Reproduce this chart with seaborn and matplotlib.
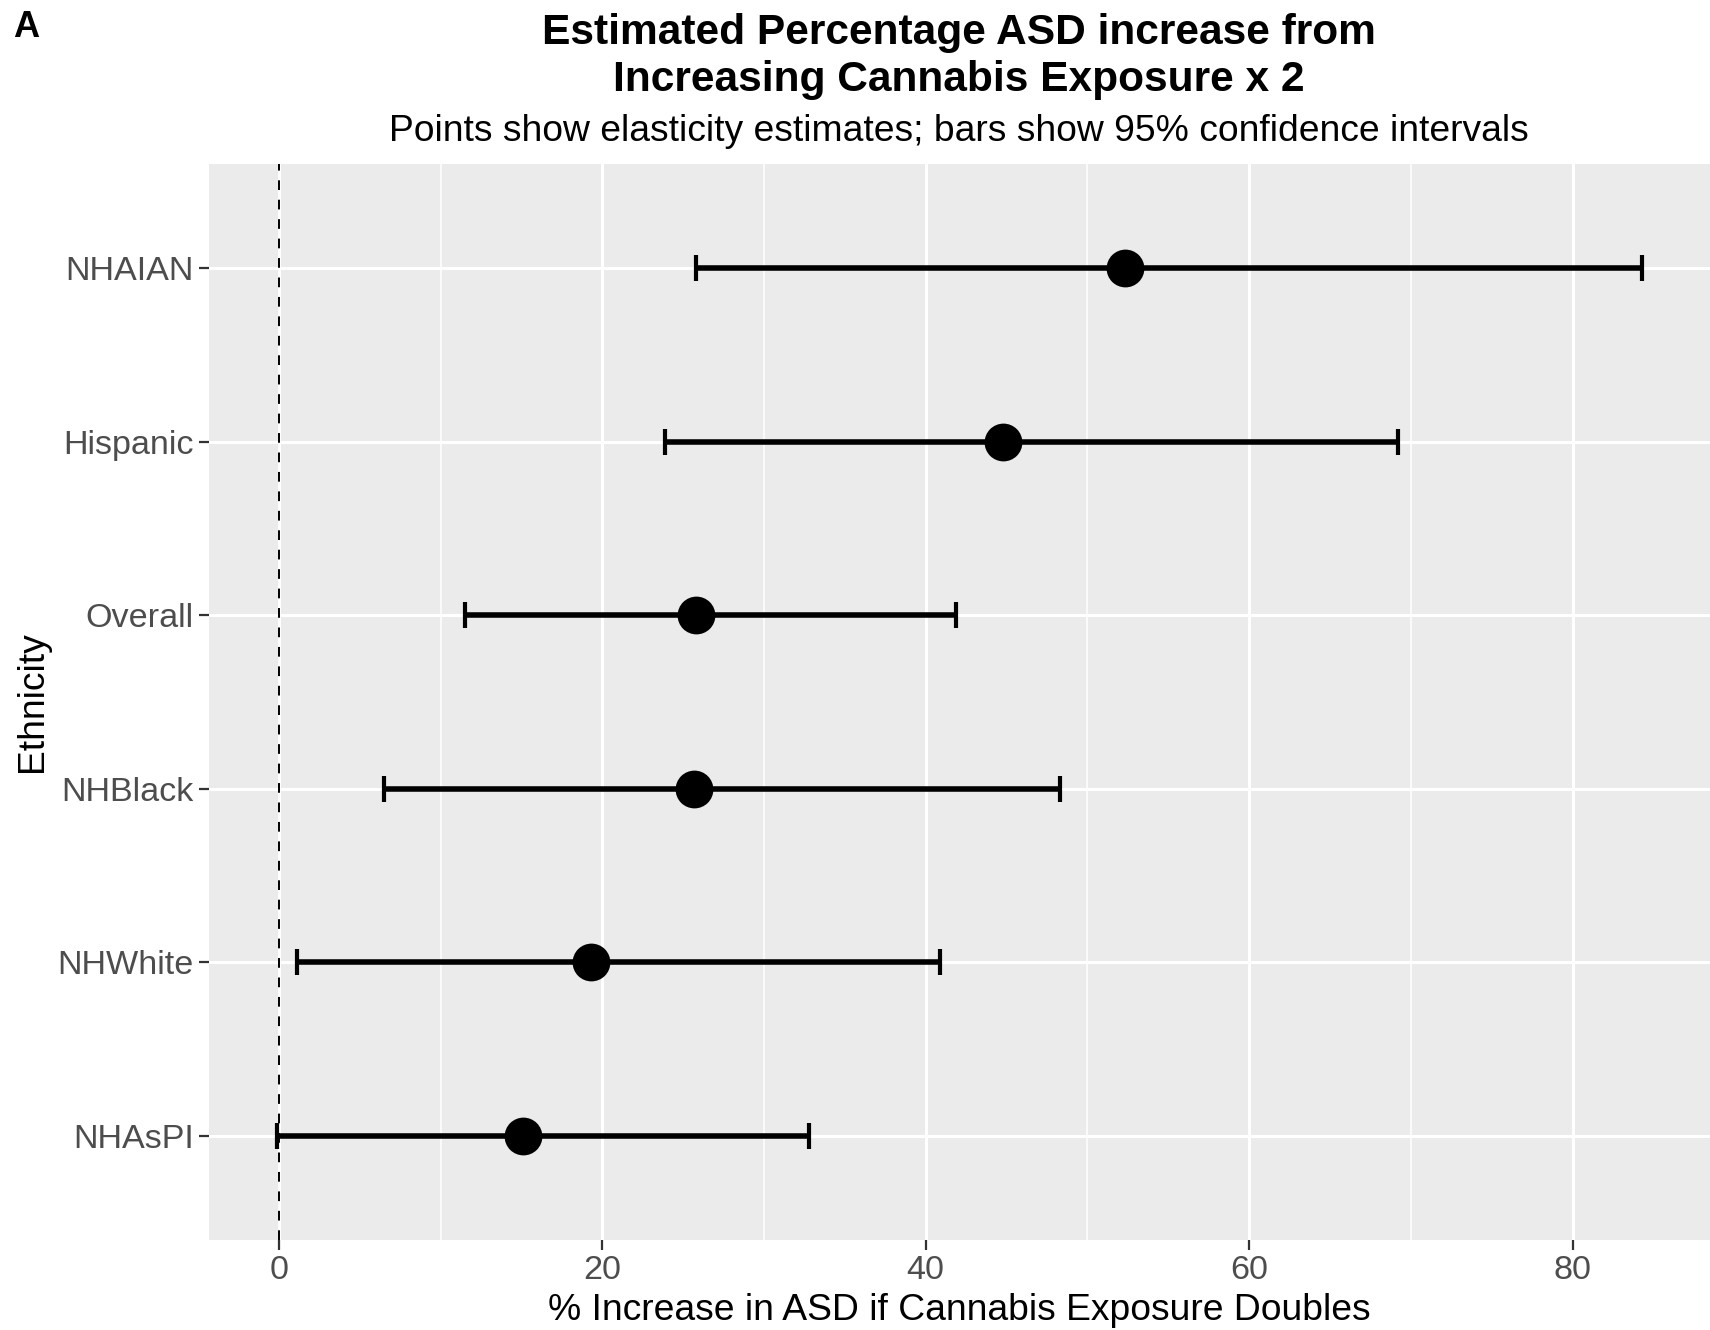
import numpy as np
import pandas as pd
import matplotlib.pyplot as plt
import seaborn as sns

# Elasticity estimates with 95% CIs
ethnicity = ['NHAsPI', 'NHWhite', 'NHBlack', 'Overall', 'Hispanic', 'NHAIAN']
estimate = [15.1, 19.3, 25.7, 25.8, 44.8, 52.3]
lower = [-0.1, 1.1, 6.5, 11.5, 23.9, 25.8]
upper = [32.8, 40.9, 48.3, 41.9, 69.2, 84.3]

df = pd.DataFrame({'Ethnicity': ethnicity, 'est': estimate, 'lo': lower, 'hi': upper})

sns.set_theme(style='darkgrid', rc={
    'axes.facecolor': '#EBEBEB',
    'grid.color': 'white',
    'text.color': 'black',
    'axes.labelcolor': 'black',
})
plt.rcParams['font.family'] = ['Liberation Sans', 'DejaVu Sans']

fig = plt.figure(figsize=(17.1, 13.3), dpi=100)
ax = fig.add_axes([0.1222, 0.0677, 0.8778, 0.809])

ax.axvline(0, color='black', linestyle=(0, (5, 5)), linewidth=1.4, zorder=2)

ax.errorbar(df['est'], df['Ethnicity'],
            xerr=[df['est'] - df['lo'], df['hi'] - df['est']],
            fmt='none', ecolor='black', elinewidth=4.0, capsize=9.5, capthick=3.0, zorder=3)
sns.scatterplot(data=df, x='est', y='Ethnicity', color='black', s=740,
                edgecolor='black', linewidth=0, ax=ax, zorder=4)

ax.set_xlim(-4.32, 88.5)
ax.set_ylim(-0.6, 5.6)
ax.set_xticks([0, 20, 40, 60, 80])
ax.set_xticks([10, 30, 50, 70], minor=True)
ax.grid(which='major', color='white', linewidth=2.2)
ax.grid(which='minor', axis='x', color='white', linewidth=1.1)
ax.tick_params(axis='both', which='major', labelsize=24.6, labelcolor='#4D4D4D',
               length=7, width=1.6, color='#333333', pad=4, bottom=True, left=True)
ax.tick_params(which='minor', length=0)
for s in ax.spines.values():
    s.set_visible(False)

ax.set_xlabel('% Increase in ASD if Cannabis Exposure Doubles', fontsize=26.8, labelpad=5)
ax.set_ylabel('Ethnicity', fontsize=26.8, labelpad=5)

fig.text(0.561, 0.990, 'Estimated Percentage ASD increase from\nIncreasing Cannabis Exposure x 2',
         ha='center', va='top', fontsize=30.6, fontweight='bold', linespacing=1.2)
fig.text(0.561, 0.901, 'Points show elasticity estimates; bars show 95% confidence intervals',
         ha='center', va='center', fontsize=26.8)
fig.text(0.0075, 0.979, 'A', ha='left', va='center', fontsize=26, fontweight='bold')

fig.savefig('out.png', dpi=100)
